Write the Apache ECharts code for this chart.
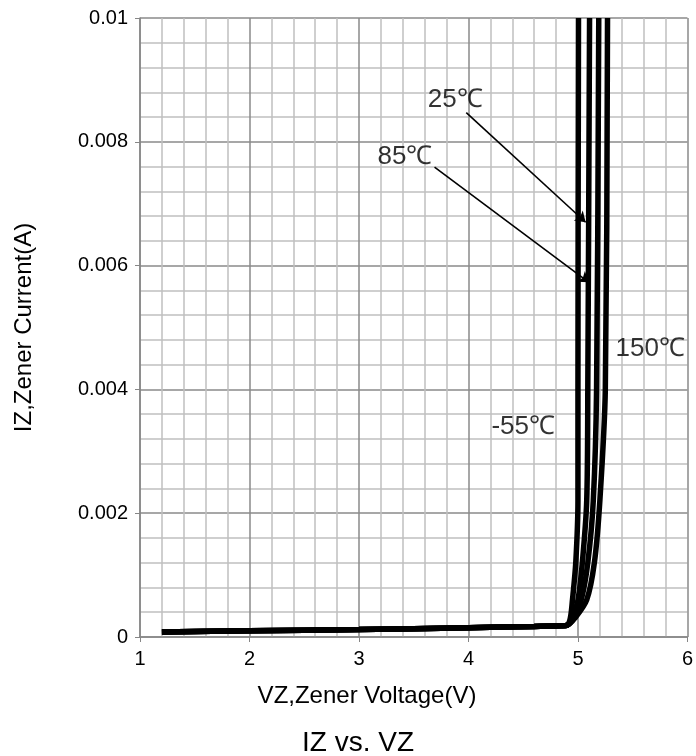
<!DOCTYPE html>
<html>
<head>
<meta charset="utf-8">
<script src="https://cdn.jsdelivr.net/npm/echarts@6/dist/echarts.min.js"></script>
<style>html,body{margin:0;padding:0;background:#fff}#c{width:696px;height:756px}</style>
</head>
<body>
<div id="c"></div>
<script>
// ---- data ----
var xTicks = [1, 2, 3, 4, 5, 6];
var yTicks = [0, 0.002, 0.004, 0.006, 0.008, 0.01];
var temps = ['-55℃', '25℃', '85℃', '150℃'];
// shared low-current (leakage) part
var flatV = [1.2, 2, 3, 4, 4.6, 4.85];
var flatI = [0.00008, 0.0001, 0.00012, 0.00015, 0.00017, 0.00018];
// breakdown part
var riseI = [0.00019, 0.0003, 0.0006, 0.0012, 0.0022, 0.004, 0.01];
var riseV_m55 = [4.9, 4.93, 4.95, 4.98, 5.0, 5.0, 5.005];
var riseV_25 = [4.9, 4.95, 5.0, 5.04, 5.08, 5.09, 5.106];
var riseV_85 = [4.9, 4.96, 5.03, 5.09, 5.14, 5.17, 5.19];
var riseV_150 = [4.9, 4.97, 5.08, 5.15, 5.2, 5.25, 5.27];
// annotation labels [V, I, text]
var labelPts = [[3.88, 0.00868, '25℃'], [3.42, 0.00776, '85℃'], [5.66, 0.00466, '150℃'], [4.5, 0.00339, '-55℃']];
// annotation arrows [[fromV, fromI], [toV, toI]]
var arrows = [[[3.98, 0.00847], [5.07, 0.0067]], [[3.69, 0.00759], [5.1, 0.00573]]];

function build(riseV) {
  var d = [];
  for (var i = 0; i < flatV.length; i++) d.push([flatV[i], flatI[i]]);
  for (var j = 0; j < riseV.length; j++) d.push([riseV[j], riseI[j]]);
  return d;
}
var rises = [riseV_m55, riseV_25, riseV_85, riseV_150];
var FONT = 'Liberation Sans, Arial, sans-serif';
var series = rises.map(function (r, k) {
  return {
    name: temps[k], type: 'line', data: build(r), smooth: 0.3,
    showSymbol: false, symbol: 'none',
    lineStyle: { color: '#000', width: 5.5 }, z: 3
  };
});
series.push({
  type: 'line', data: [], silent: true,
  markLine: {
    silent: true, symbol: ['none', 'arrow'], symbolSize: 10,
    lineStyle: { color: '#000', width: 1.6, type: 'solid' },
    label: { show: false },
    data: arrows.map(function (a) { return [{ coord: a[0] }, { coord: a[1] }]; })
  }
});
series.push({
  type: 'scatter', symbolSize: 0, silent: true,
  data: labelPts.map(function (p) { return { value: [p[0], p[1]], name: p[2] }; }),
  label: { show: true, position: 'inside', formatter: '{b}', color: '#000', fontSize: 26, fontFamily: FONT },
  z: 5
});

var chart = echarts.init(document.getElementById('c'), null, { renderer: 'canvas' });
chart.setOption({
  animation: false,
  backgroundColor: '#fff',
  title: [
    { text: 'VZ,Zener Voltage(V)', left: 362, top: 679, textAlign: 'center',
      textStyle: { fontSize: 24, fontWeight: 'normal', color: '#000', fontFamily: FONT } },
    { text: 'IZ vs. VZ', left: 353, top: 724, textAlign: 'center',
      textStyle: { fontSize: 28, fontWeight: 'normal', color: '#000', fontFamily: FONT } }
  ],
  grid: { left: 140, right: 8, top: 18, bottom: 119, containLabel: false },
  xAxis: {
    type: 'value', min: xTicks[0], max: xTicks[xTicks.length - 1], interval: 1,
    axisLine: { show: true, onZero: false, lineStyle: { color: '#868686', width: 1.5 } },
    axisTick: { show: true, length: 5, lineStyle: { color: '#868686' } },
    axisLabel: { color: '#000', fontSize: 20, fontFamily: FONT, margin: 12 },
    splitLine: { show: true, lineStyle: { color: '#8a8a8a', width: 1.5 } },
    minorTick: { show: false, splitNumber: 5 },
    minorSplitLine: { show: true, lineStyle: { color: '#c0c0c0', width: 1.5 } }
  },
  yAxis: {
    type: 'value', min: yTicks[0], max: yTicks[yTicks.length - 1], interval: 0.002,
    name: 'IZ,Zener Current(A)', nameLocation: 'middle', nameGap: 104,
    nameTextStyle: { color: '#000', fontSize: 24, fontFamily: FONT },
    axisLine: { show: true, lineStyle: { color: '#868686', width: 1.5 } },
    axisTick: { show: true, length: 5, lineStyle: { color: '#868686' } },
    axisLabel: { color: '#000', fontSize: 20, fontFamily: FONT, margin: 12 },
    splitLine: { show: true, lineStyle: { color: '#8a8a8a', width: 1.5 } },
    minorTick: { show: false, splitNumber: 5 },
    minorSplitLine: { show: true, lineStyle: { color: '#c0c0c0', width: 1.5 } }
  },
  series: series
});
</script>
</body>
</html>
